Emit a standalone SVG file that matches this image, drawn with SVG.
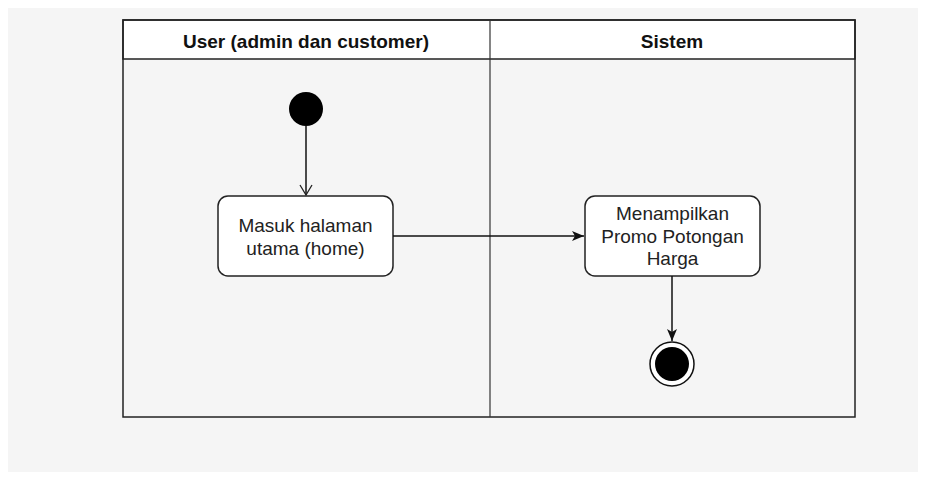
<svg xmlns="http://www.w3.org/2000/svg" width="926" height="480" viewBox="0 0 926 480">
  <style>
    .lane { fill: none; stroke: #222; stroke-width: 1.5; }
    .head { fill: #fff; stroke: #222; stroke-width: 1.5; }
    .title { font-family: "Liberation Sans", Arial, sans-serif; font-size: 19px; font-weight: bold; fill: #111; text-anchor: middle; }
    .act { fill: #fff; stroke: #222; stroke-width: 1.5; }
    .label { font-family: "Liberation Sans", Arial, sans-serif; font-size: 19px; fill: #222; text-anchor: middle; }
    .flow { fill: none; stroke: #111; stroke-width: 1.5; }
  </style>
  <defs>
    <marker id="open" markerWidth="14" markerHeight="14" refX="12" refY="7" orient="auto" markerUnits="userSpaceOnUse">
      <path d="M2,1 L12,7 L2,13" fill="none" stroke="#222" stroke-width="1.3"/>
    </marker>
    <marker id="solid" markerWidth="14" markerHeight="12" refX="13" refY="6" orient="auto" markerUnits="userSpaceOnUse">
      <path d="M1,1 L13,6 L1,11 L4,6 Z" fill="#111"/>
    </marker>
  </defs>

  <rect x="0" y="0" width="926" height="480" fill="#fff"/>
  <rect x="8" y="8" width="910" height="464" fill="#f5f5f5"/>

  <!-- swimlanes -->
  <g id="lanes">
    <rect class="head" x="123" y="20" width="732" height="39"/>
    <rect class="lane" x="123" y="20" width="732" height="397"/>
    <line x1="490" y1="20" x2="490" y2="417" stroke="#333" stroke-width="1.2"/>
    <text class="title" x="306" y="48">User (admin dan customer)</text>
    <text class="title" x="672" y="48">Sistem</text>
  </g>

  <!-- start -->
  <g id="start">
    <circle cx="306" cy="109" r="17" fill="#000"/>
  </g>

  <g id="masuk">
    <rect class="act" x="218" y="196" width="175" height="80" rx="10"/>
    <text class="label" x="305.5" y="232">Masuk halaman</text>
    <text class="label" x="305.5" y="255">utama (home)</text>
  </g>

  <g id="promo">
    <rect class="act" x="585" y="196" width="175" height="80" rx="10"/>
    <text class="label" x="672.5" y="220">Menampilkan</text>
    <text class="label" x="672.5" y="243">Promo Potongan</text>
    <text class="label" x="672.5" y="265">Harga</text>
  </g>

  <!-- end -->
  <g id="end">
    <circle cx="672" cy="364" r="22" fill="#fff" stroke="#111" stroke-width="1.5"/>
    <circle cx="672" cy="364" r="17" fill="#000"/>
  </g>

  <g id="connectors">
    <line class="flow" x1="306" y1="126" x2="306" y2="195" marker-end="url(#open)"/>
    <line class="flow" x1="393" y1="236" x2="584" y2="236" marker-end="url(#solid)"/>
    <line class="flow" x1="672" y1="276" x2="672" y2="341" marker-end="url(#solid)"/>
  </g>
</svg>
